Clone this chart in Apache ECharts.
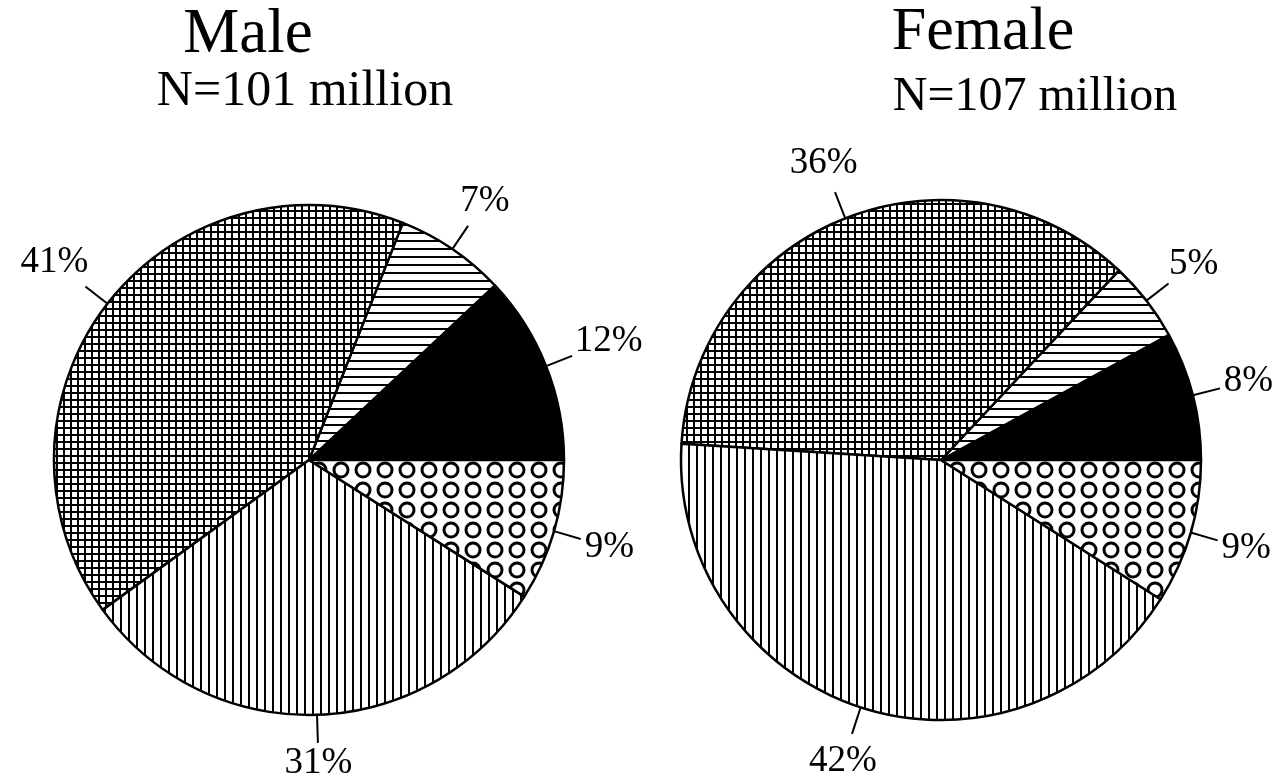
<!DOCTYPE html>
<html><head><meta charset="utf-8">
<script src="https://cdn.jsdelivr.net/npm/echarts@6/dist/echarts.min.js"></script>
<style>html,body{margin:0;padding:0;background:#fff}#c{width:1276px;height:781px}</style>
</head><body><div id="c"></div>
<script>
const categories = ['Solid', 'Horizontal lines', 'Grid', 'Vertical lines', 'Circles'];
const maleValues = [12, 7, 41, 31, 9];
const femaleValues = [8, 5, 36, 42, 9];
const titles = ['Male', 'Female'];
const subtitles = ['N=101 million', 'N=107 million'];

function makeCanvas(w, h, draw) {
  const c = document.createElement('canvas');
  c.width = w; c.height = h;
  const g = c.getContext('2d');
  g.fillStyle = '#fff'; g.fillRect(0, 0, w, h);
  g.fillStyle = '#000'; g.strokeStyle = '#000';
  draw(g);
  return c;
}
const gridPat = makeCanvas(7, 7, g => { g.fillRect(0, 0, 7, 2); g.fillRect(0, 0, 2, 7); });
const hPat = makeCanvas(8, 8, g => { g.fillRect(0, 0, 8, 2); });
const vPat = makeCanvas(8, 8, g => { g.fillRect(0, 0, 2, 8); });
const cPat = makeCanvas(22, 20, g => { g.lineWidth = 3; g.beginPath(); g.arc(11, 10, 7, 0, Math.PI * 2); g.stroke(); });

const fills = [
  '#000',
  { image: hPat, repeat: 'repeat' },
  { image: gridPat, repeat: 'repeat' },
  { image: vPat, repeat: 'repeat' },
  { image: cPat, repeat: 'repeat' }
];

function layoutFn(params) {
  const pts = params.labelLinePoints;
  if (!pts) return {};
  const p0 = pts[0], p1 = pts[1];
  const dx = p1[0] - p0[0], dy = p1[1] - p0[1];
  const len = Math.hypot(dx, dy) || 1;
  const ux = dx / len, uy = dy / len;
  const w = params.labelRect.width, h = params.labelRect.height;
  const off = Math.abs(ux) * w / 2 + Math.abs(uy) * h / 2 + 1;
  return {
    x: p1[0] + ux * off, y: p1[1] + uy * off,
    align: 'center', verticalAlign: 'middle',
    labelLinePoints: [p0, p1, p1]
  };
}

function pie(values, center, radius) {
  return {
    type: 'pie', center: center, radius: radius,
    startAngle: 0, clockwise: false, avoidLabelOverlap: false,
    silent: true, animation: false,
    itemStyle: { borderColor: '#000', borderWidth: 2.5 },
    label: { show: true, position: 'outside', formatter: '{c}%', color: '#000',
      fontFamily: 'Liberation Serif', fontSize: 37 },
    labelLine: { show: true, length: 28, length2: 0, smooth: false,
      lineStyle: { color: '#000', width: 2 } },
    labelLayout: layoutFn,
    data: values.map((v, i) => ({ name: categories[i], value: v, itemStyle: { color: fills[i] } }))
  };
}

const ts = (fs) => ({ fontFamily: 'Liberation Serif', fontSize: fs, fontWeight: 'normal', color: '#000' });
const chart = echarts.init(document.getElementById('c'));
chart.setOption({
  backgroundColor: '#fff',
  animation: false,
  title: [
    { text: titles[0], left: 248, top: 4, padding: 0, textAlign: 'center', textStyle: ts(63) },
    { text: subtitles[0], left: 305, top: 67, padding: 0, textAlign: 'center', textStyle: ts(50) },
    { text: titles[1], left: 983, top: 2, padding: 0, textAlign: 'center', textStyle: ts(62) },
    { text: subtitles[1], left: 1035, top: 73, padding: 0, textAlign: 'center', textStyle: ts(48) }
  ],
  series: [
    pie(maleValues, [309, 460], 255),
    pie(femaleValues, [941, 460], 260)
  ]
});
</script></body></html>
